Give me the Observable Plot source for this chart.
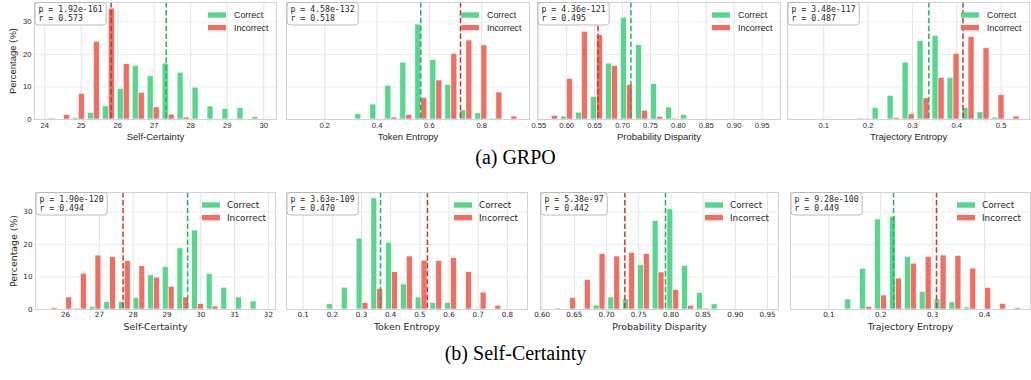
<!DOCTYPE html>
<html><head><meta charset="utf-8">
<script src="https://cdn.jsdelivr.net/npm/d3@7"></script>
<script src="https://cdn.jsdelivr.net/npm/@observablehq/plot@0.6"></script>
<style>
html,body{margin:0;padding:0;background:#fff;}
#fig{position:relative;width:1031px;height:380px;overflow:hidden;background:#fff;}
.cap{position:absolute;left:0;width:1031px;text-align:center;font-family:"Liberation Serif","Times New Roman",serif;font-size:20px;line-height:20px;color:#000;}
</style></head><body>
<div id="fig"></div>
<script>
// ---------- DATA ----------
const metricLabels = ["Self-Certainty", "Token Entropy", "Probability Disparity", "Trajectory Entropy"];
const seriesNames = ["Correct", "Incorrect"];
const rowCaptions = ["(a) GRPO", "(b) Self-Certainty"];

// Row (a) GRPO: histogram bins (first bin edge, bin width) and percentages
const grpoBinStart = [23.91, 0.311, 0.560, 0.173];
const grpoBinWidth = [0.41, 0.0574, 0.0269, 0.0338];
const grpoCorrect = [
  [0, 0, 0.4, 2.0, 4.0, 9.4, 16.5, 13.3, 17.2, 14.4, 9.8, 4.0, 3.2, 3.5, 0.7],
  [1.6, 4.6, 10.4, 17.5, 29.2, 18.3, 10.6, 2.8, 1.9, 0.3, 0],
  [0, 0.9, 2.1, 6.9, 17.2, 31.3, 22.9, 10.9, 3.7, 1.4],
  [0.3, 3.5, 7.3, 17.5, 24.1, 25.7, 12.8, 3.5, 2.2, 0.6, 0]
];
const grpoIncorrect = [
  [0.3, 1.4, 7.9, 23.9, 34.1, 17.0, 8.2, 3.7, 1.5, 0.6, 0, 0, 0, 0, 0],
  [0, 0, 0.6, 1.4, 6.6, 12.0, 20.2, 24.3, 22.8, 8.3, 0.9],
  [1.1, 12.5, 27.0, 25.9, 16.4, 10.6, 2.7, 0.8, 0.3, 0],
  [0, 0, 0.5, 1.6, 6.5, 12.8, 20.2, 25.4, 21.9, 7.5, 0.9]
];
const grpoMeanCorrect = [27.33, 0.567, 0.715, 0.337];
const grpoMeanIncorrect = [25.82, 0.719, 0.656, 0.414];
const grpoP = ["1.92e-161", "4.58e-132", "4.36e-121", "3.48e-117"];
const grpoR = ["0.573", "0.518", "0.495", "0.487"];
const grpoTicks = [
  ["24", "25", "26", "27", "28", "29", "30"],
  ["0.2", "0.4", "0.6", "0.8"],
  ["0.55", "0.60", "0.65", "0.70", "0.75", "0.80", "0.85", "0.90", "0.95"],
  ["0.1", "0.2", "0.3", "0.4", "0.5"]
];

// Row (b) Self-Certainty
const scBinStart = [25.37, 0.177, 0.609, 0.100];
const scBinWidth = [0.433, 0.0506, 0.0229, 0.0287];
const scCorrect = [
  [0, 0, 0.3, 0.8, 2.3, 2.3, 3.5, 10.5, 13.1, 18.8, 24.3, 10.9, 6.7, 3.7, 2.5],
  [1.6, 6.7, 21.8, 34.2, 20.5, 7.7, 3.7, 2.0, 2.0, 0, 0, 0],
  [0, 0, 0, 1.2, 3.7, 3.1, 13.6, 27.2, 30.8, 13.4, 5.1, 1.6],
  [0.2, 3.1, 12.5, 27.7, 28.5, 16.2, 5.4, 3.1, 2.2, 0.6, 0, 0, 0]
];
const scIncorrect = [
  [0.4, 3.7, 11.0, 16.6, 16.1, 14.9, 13.3, 9.8, 7.0, 3.7, 1.7, 0.9, 0, 0, 0],
  [0, 0, 2.0, 6.3, 11.5, 16.3, 15.0, 14.9, 15.8, 11.5, 5.2, 1.1],
  [0.3, 3.5, 9.1, 17.1, 16.3, 17.4, 17.1, 11.4, 6.0, 1.1, 0.3, 0],
  [0, 0, 0.8, 4.3, 9.5, 14.1, 16.2, 16.6, 16.5, 12.6, 6.6, 1.7, 0.4]
];
const scMeanCorrect = [29.61, 0.365, 0.7915, 0.2246];
const scMeanIncorrect = [27.70, 0.526, 0.7284, 0.3074];
const scP = ["1.90e-120", "3.63e-109", "5.38e-97", "9.28e-100"];
const scR = ["0.494", "0.470", "0.442", "0.449"];
const scTicks = [
  ["26", "27", "28", "29", "30", "31", "32"],
  ["0.1", "0.2", "0.3", "0.4", "0.5", "0.6", "0.7", "0.8"],
  ["0.60", "0.65", "0.70", "0.75", "0.80", "0.85", "0.90", "0.95"],
  ["0.1", "0.2", "0.3", "0.4"]
];
const yTicks = ["0", "10", "20", "30"];

// ---------- LAYOUT ----------
const COL_GREEN = "#58d68d", COL_RED = "#ec7063";
const LINE_GREEN = "#27ae60", LINE_RED = "#c8372b";
const rows = [
  {
    top: 2, h: 117, lefts: [34, 286, 537, 787], widths: [242, 243, 243, 242],
    domains: [[23.72, 30.35], [0.0535, 0.983], [0.5477, 0.983], [0.0182, 0.564]],
    font: "'Liberation Sans', Arial, sans-serif", tickFS: 7.6, labFS: 9.5, legFS: 8.9,
    tickPad: 3, legText: 42, legPatchL: 68, legPatchR: 50,
    start: grpoBinStart, width: grpoBinWidth, correct: grpoCorrect, incorrect: grpoIncorrect,
    meanC: grpoMeanCorrect, meanI: grpoMeanIncorrect, p: grpoP, r: grpoR, ticks: grpoTicks,
    capTop: 147, caption: rowCaptions[0]
  },
  {
    top: 192, h: 117, lefts: [35, 286, 540, 790], widths: [240, 241, 238, 240],
    domains: [[25.11, 32.21], [0.0428, 0.869], [0.5974, 0.967], [0.026, 0.4886]],
    font: "'DejaVu Sans', sans-serif", tickFS: 7.2, labFS: 9.4, legFS: 8.8,
    tickPad: 2, legText: 48, legPatchL: 73, legPatchR: 55,
    start: scBinStart, width: scBinWidth, correct: scCorrect, incorrect: scIncorrect,
    meanC: scMeanCorrect, meanI: scMeanIncorrect, p: scP, r: scR, ticks: scTicks,
    capTop: 343, caption: rowCaptions[1]
  }
];

const fig = document.getElementById("fig");
const ML = 45, MR = 10, MT = 6, MB = 32;

rows.forEach(row => {
  for (let i = 0; i < 4; i++) {
    const w = row.widths[i], h = row.h;
    const start = row.start[i], bw = row.width[i];
    const bars = [];
    row.correct[i].forEach((v, k) => { if (v > 0) bars.push({x1: start + (k + 0.1) * bw, x2: start + (k + 0.5) * bw, y: v, s: seriesNames[0]}); });
    row.incorrect[i].forEach((v, k) => { if (v > 0) bars.push({x1: start + (k + 0.5) * bw, x2: start + (k + 0.9) * bw, y: v, s: seriesNames[1]}); });
    const tickLabels = row.ticks[i];
    const tickVals = tickLabels.map(Number);
    const labMap = new Map(tickVals.map((v, j) => [v, tickLabels[j]]));
    const yVals = yTicks.map(Number);

    const marks = [
      Plot.gridX(tickVals, {stroke: "#e3e3e3", strokeOpacity: 1, strokeWidth: 1}),
      Plot.gridY(yVals.slice(1), {stroke: "#ededed", strokeOpacity: 1, strokeWidth: 1}),
      Plot.rect(bars, {x1: "x1", x2: "x2", y1: 0, y2: "y", fill: d => d.s === seriesNames[0] ? COL_GREEN : COL_RED, stroke: "white", strokeWidth: 0.6}),
      Plot.ruleX([row.meanC[i]], {stroke: LINE_GREEN, strokeWidth: 1.5, strokeDasharray: "5.5,2.4"}),
      Plot.ruleX([row.meanI[i]], {stroke: LINE_RED, strokeWidth: 1.5, strokeDasharray: "5.5,2.4"}),
      Plot.frame({stroke: "#d2d2d2", strokeWidth: 1}),
      Plot.axisX(tickVals, {tickSize: 0, tickPadding: row.tickPad, fontSize: row.tickFS, tickFormat: d => labMap.get(d), label: null}),
      Plot.text([metricLabels[i]], {frameAnchor: "bottom", lineAnchor: "middle", textAnchor: "middle", dy: 17, text: d => d, fontSize: row.labFS, fill: "#262626"})
    ];
    if (i === 0) {
      marks.push(Plot.axisY(yVals, {tickSize: 0, tickPadding: 3, fontSize: row.tickFS, tickFormat: d => String(d), label: null}));
      marks.push(Plot.text(["Percentage (%)"], {frameAnchor: "left", textAnchor: "middle", lineAnchor: "middle", rotate: -90, dx: -22, text: d => d, fontSize: row.labFS, fill: "#262626"}));
    }

    const svg = Plot.plot({
      width: w + ML + MR, height: h + MT + MB,
      marginLeft: ML, marginRight: MR, marginTop: MT, marginBottom: MB,
      style: {background: "transparent", fontFamily: row.font, color: "#262626", overflow: "visible", maxWidth: "none"},
      x: {domain: row.domains[i], axis: null},
      y: {domain: [0, 36], axis: null},
      marks
    });
    svg.style.position = "absolute";
    svg.style.left = (row.lefts[i] - ML) + "px";
    svg.style.top = (row.top - MT) + "px";
    fig.appendChild(svg);

    // annotation box + legend (frame-relative)
    const g = d3.select(svg).append("g").attr("transform", `translate(${ML},${MT})`).attr("text-anchor", "start");
    const l1 = "p = " + row.p[i], l2 = "r = " + row.r[i];
    const chars = Math.max(l1.length, l2.length);
    const boxW = chars * 4.94 + 7;
    g.append("rect").attr("x", 1).attr("y", 0.5).attr("width", boxW).attr("height", 22.5)
      .attr("rx", 3).attr("fill", "white").attr("stroke", "#b4b4b4").attr("stroke-width", 0.9);
    [l1, l2].forEach((t, j) => {
      g.append("text").attr("x", 4.5).attr("y", 7.3 + j * 9).attr("dy", "0.35em")
        .attr("text-anchor", "start")
        .attr("font-family", "'DejaVu Sans Mono', monospace").attr("font-size", 8.2)
        .attr("fill", "#262626").text(t);
    });
    const fr = w;
    [[seriesNames[0], COL_GREEN], [seriesNames[1], COL_RED]].forEach(([name, col], j) => {
      const cy = 13 + j * 12.6;
      g.append("rect").attr("x", fr - row.legPatchL).attr("y", cy - 2.7)
        .attr("width", row.legPatchL - row.legPatchR).attr("height", 5.4).attr("fill", col);
      g.append("text").attr("x", fr - row.legText).attr("y", cy).attr("dy", "0.35em")
        .attr("text-anchor", "start")
        .attr("font-family", row.font).attr("font-size", row.legFS).attr("fill", "#262626").text(name);
    });
  }
  const cap = document.createElement("div");
  cap.className = "cap";
  cap.style.top = row.capTop + "px";
  cap.textContent = row.caption;
  fig.appendChild(cap);
});
</script>
</body></html>
